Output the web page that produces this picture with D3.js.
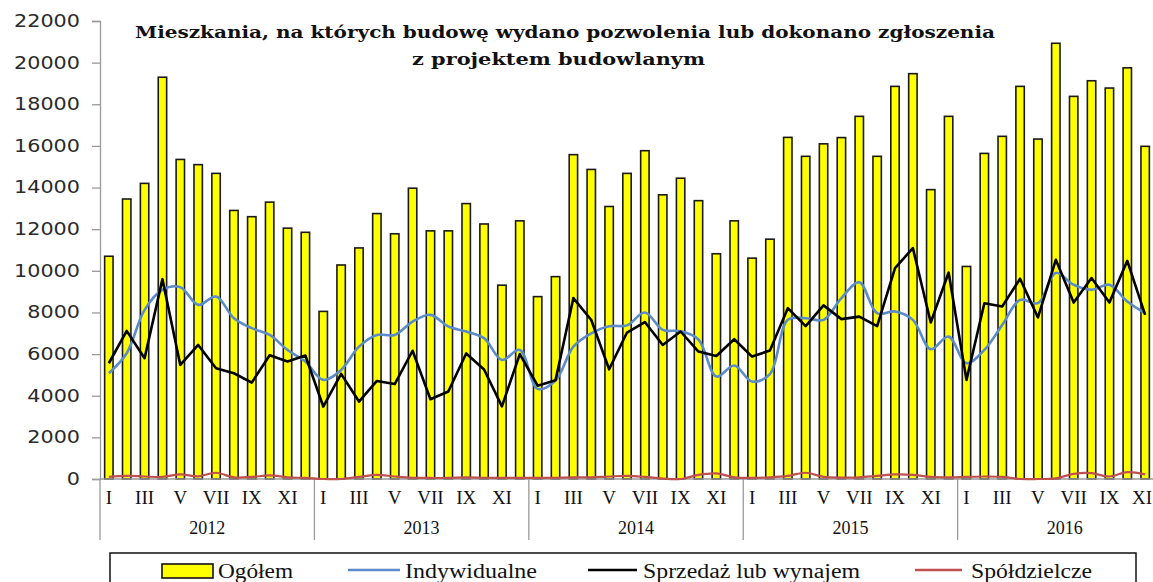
<!DOCTYPE html>
<html>
<head>
<meta charset="utf-8">
<script src="https://cdn.jsdelivr.net/npm/d3@7"></script>
<style>
  body { margin: 0; background: #fff; }
  svg { display: block; }
</style>
</head>
<body>
<div class="graph"></div>
<script>
//data
const years = ["2012", "2013", "2014", "2015", "2016"];
const months = ["I", "II", "III", "IV", "V", "VI", "VII", "VIII", "IX", "X", "XI", "XII"];
const monthsPerYear = [12, 12, 12, 12, 11];

const ogolem = [
  10700, 13450, 14200, 19300, 15350, 15100, 14680, 12900, 12600, 13300, 12050, 11850,
  8050, 10280, 11100, 12750, 11780, 13970, 11920, 11920, 13230, 12250, 9310, 12400,
  8760, 9720, 15580, 14870, 13090, 14680, 15770, 13650, 14450, 13370, 10820, 12400,
  10610, 11520, 16410, 15500, 16100, 16400, 17420, 15500, 18860, 19470, 13900, 17420,
  10210, 15640, 16460, 18860, 16330, 20930, 18380, 19130, 18780, 19750, 15980
];
const indywidualne = [
  5080, 6040, 8125, 9090, 9215, 8365, 8765, 7725, 7245, 6920, 6200, 5640,
  4760, 5240, 6360, 6920, 6920, 7560, 7885, 7325, 7085, 6765, 5720, 6200,
  4330, 4730, 6360, 7000, 7340, 7380, 8000, 7165, 7100, 6700, 4920, 5450,
  4680, 5040, 7645, 7725, 7645, 8690, 9450, 7965, 8045, 7645, 6235, 6840,
  5560, 6200, 7400, 8605, 8445, 9900, 9330, 9090, 9330, 8525, 7965
];
const sprzedaz = [
  5560, 7115, 5800, 9600, 5480, 6440, 5320, 5080, 4630, 5945, 5640, 5930,
  3480, 5050, 3720, 4710, 4560, 6160, 3830, 4200, 6030, 5260, 3490, 6000,
  4480, 4740, 8690, 7640, 5270, 7035, 7540, 6440, 7085, 6120, 5910, 6715,
  5880, 6170, 8205, 7340, 8340, 7680, 7800, 7340, 10130, 11090, 7515, 9920,
  4760, 8445, 8285, 9620, 7760, 10530, 8475, 9650, 8475, 10480, 7885
];
const spoldzielcze = [
  100, 150, 120, 100, 220, 130, 300, 80, 100, 170, 80, 50,
  0, 0, 100, 200, 120, 60, 50, 50, 80, 60, 50, 50,
  50, 60, 80, 80, 120, 150, 100, 20, 0, 200, 270, 80,
  50, 80, 150, 300, 100, 70, 80, 150, 220, 200, 100, 80,
  100, 120, 100, 0, 0, 30, 250, 280, 120, 330, 220
];
const yTicks = [0, 2000, 4000, 6000, 8000, 10000, 12000, 14000, 16000, 18000, 20000, 22000];

//categories: one per month, key = year-month
const cats = [];
years.forEach((yr, yi) => {
  for (let m = 0; m < monthsPerYear[yi]; m++) cats.push({ key: yr + "-" + m, year: yr, month: months[m], m: m });
});

/*---------- SVG ----------*/
const SIZE = { X: 1153, Y: 582 };
const PLOT = { LEFT: 100, RIGHT: 1154, TOP: 21, BOTTOM: 479 };

const svg = d3.select(".graph").append("svg")
  .attr("width", SIZE.X)
  .attr("height", SIZE.Y);

const x = d3.scaleBand()
  .domain(cats.map(d => d.key))
  .range([PLOT.LEFT, PLOT.RIGHT])
  .paddingInner(0.53)
  .paddingOuter(0.26);

const y = d3.scaleLinear()
  .domain([0, 22000])
  .range([PLOT.BOTTOM, PLOT.TOP]);

const step = x.step();
const cx = i => x(cats[i].key) + x.bandwidth() / 2;

//bars
svg.append("g").selectAll("rect")
  .data(ogolem)
  .join("rect")
  .attr("x", (d, i) => x(cats[i].key))
  .attr("y", d => y(d))
  .attr("width", x.bandwidth())
  .attr("height", d => y(0) - y(d))
  .attr("fill", "#ffff00")
  .attr("stroke", "#1a1a1a")
  .attr("stroke-width", 1.6);

//y axis
const yAxis = svg.append("g")
  .attr("transform", `translate(${PLOT.LEFT},0)`)
  .call(d3.axisLeft(y).tickValues(yTicks).tickSize(8).tickFormat(d3.format("d")));
yAxis.select(".domain").attr("stroke", "#9a9a9a").attr("stroke-width", 1.3);
yAxis.selectAll(".tick line").attr("stroke", "#9a9a9a").attr("stroke-width", 1.3);
yAxis.selectAll(".tick text")
  .attr("x", -20 / 1.22)
  .attr("transform", "scale(1.22,1)")
  .attr("fill", "#2a2a2a")
  .style("font-family", "'DejaVu Sans', Verdana, sans-serif")
  .style("font-size", "17px");

//x axis line
svg.append("line")
  .attr("x1", PLOT.LEFT).attr("x2", PLOT.RIGHT)
  .attr("y1", y(0)).attr("y2", y(0))
  .attr("stroke", "#9a9a9a").attr("stroke-width", 1.3);

//year separators
let start = 0;
const sepX = [];
years.forEach((yr, yi) => {
  sepX.push(PLOT.LEFT + start * step);
  start += monthsPerYear[yi];
});
svg.append("g").selectAll("line")
  .data(sepX)
  .join("line")
  .attr("x1", d => d).attr("x2", d => d)
  .attr("y1", y(0)).attr("y2", 540)
  .attr("stroke", "#9a9a9a").attr("stroke-width", 1.3);

//month labels (odd months); last one kept inside the picture
const monthLabels = cats.filter(d => d.m % 2 === 0);
svg.append("g").selectAll("text")
  .data(monthLabels)
  .join("text")
  .attr("x", (d, i) => i === monthLabels.length - 1 ? SIZE.X - 1 : x(d.key) + x.bandwidth() / 2)
  .attr("y", 504)
  .attr("text-anchor", (d, i) => i === monthLabels.length - 1 ? "end" : "middle")
  .style("font-family", "'Liberation Serif', 'Times New Roman', serif")
  .style("font-size", "19px")
  .attr("fill", "#111")
  .text(d => d.month);

//year labels
start = 0;
const yearPos = years.map((yr, yi) => {
  const mid = PLOT.LEFT + (start + 6) * step;
  start += monthsPerYear[yi];
  return { yr, mid };
});
svg.append("g").selectAll("text")
  .data(yearPos)
  .join("text")
  .attr("x", d => d.mid)
  .attr("y", 534)
  .attr("text-anchor", "middle")
  .style("font-family", "'Liberation Serif', 'Times New Roman', serif")
  .style("font-size", "18px")
  .attr("fill", "#111")
  .text(d => d.yr);

//lines
const lineSmooth = d3.line()
  .x((d, i) => cx(i))
  .y(d => y(d))
  .curve(d3.curveCatmullRom.alpha(0.5));
const lineStraight = d3.line()
  .x((d, i) => cx(i))
  .y(d => y(d));

svg.append("path")
  .attr("d", lineSmooth(indywidualne))
  .attr("fill", "none")
  .attr("stroke", "#5b8bc9")
  .attr("stroke-width", 2.6);

svg.append("path")
  .attr("d", lineStraight(sprzedaz))
  .attr("fill", "none")
  .attr("stroke", "#000")
  .attr("stroke-width", 2.6)
  .attr("stroke-linejoin", "round");

svg.append("path")
  .attr("d", lineSmooth(spoldzielcze))
  .attr("fill", "none")
  .attr("stroke", "#c0504d")
  .attr("stroke-width", 2.2);

//title
const title = svg.append("g")
  .style("font-family", "'DejaVu Serif', Cambria, serif")
  .style("font-weight", "bold")
  .style("font-size", "17px")
  .attr("fill", "#111");
title.append("text")
  .attr("x", 135).attr("y", 38)
  .attr("textLength", 860).attr("lengthAdjust", "spacingAndGlyphs")
  .text("Mieszkania, na których budowę wydano pozwolenia lub dokonano zgłoszenia");
title.append("text")
  .attr("x", 412).attr("y", 65)
  .attr("textLength", 293).attr("lengthAdjust", "spacingAndGlyphs")
  .text("z projektem budowlanym");

//legend
const legend = svg.append("g");
legend.append("rect")
  .attr("x", 110).attr("y", 553)
  .attr("width", 1026).attr("height", 45)
  .attr("fill", "#fff")
  .attr("stroke", "#111")
  .attr("stroke-width", 1.5);

const legendItems = [
  { name: "Ogółem", type: "bar", color: "#ffff00", x0: 162, x1: 213, tx: 218, tw: 75 },
  { name: "Indywidualne", type: "line", color: "#5b8bc9", x0: 348, x1: 400, tx: 405, tw: 132 },
  { name: "Sprzedaż lub wynajem", type: "line", color: "#000", x0: 588, x1: 637, tx: 643, tw: 217 },
  { name: "Spółdzielcze", type: "line", color: "#c0504d", x0: 915, x1: 962, tx: 971, tw: 121 }
];
legendItems.forEach(it => {
  if (it.type === "bar") {
    legend.append("rect")
      .attr("x", it.x0).attr("y", 564)
      .attr("width", it.x1 - it.x0).attr("height", 14)
      .attr("fill", it.color).attr("stroke", "#111").attr("stroke-width", 1.6);
  } else {
    legend.append("line")
      .attr("x1", it.x0).attr("x2", it.x1)
      .attr("y1", 570).attr("y2", 570)
      .attr("stroke", it.color).attr("stroke-width", 2.6);
  }
  legend.append("text")
    .attr("x", it.tx).attr("y", 578)
    .attr("textLength", it.tw).attr("lengthAdjust", "spacingAndGlyphs")
    .style("font-family", "'Liberation Serif', 'Times New Roman', serif")
    .style("font-size", "20px")
    .attr("fill", "#111")
    .text(it.name);
});
</script>
</body>
</html>
